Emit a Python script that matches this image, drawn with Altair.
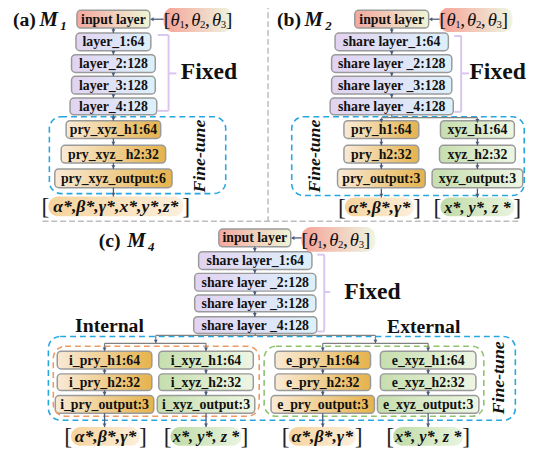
import altair as alt
import pandas as pd

# ---------------- text content ----------------
panel_tags = ["(a)", "(b)", "(c)"]
model_letter = "M"
model_subs = ["1", "2", "4"]
input_label = "input layer"
a_fixed = ["layer_1:64", "layer_2:128", "layer_3:128", "layer_4:128"]
share_fixed = ["share layer_1:64", "share layer _2:128", "share layer _3:128", "share layer _4:128"]
a_tune = ["pry_xyz_h1:64", "pry_xyz_ h2:32", "pry_xyz_output:6"]
b_pry = ["pry_h1:64", "pry_h2:32", "pry_output:3"]
b_xyz = ["xyz_h1:64", "xyz_h2:32", "xyz_output:3"]
c_ipry = ["i_pry_h1:64", "i_pry_h2:32", "i_pry_output:3"]
c_ixyz = ["i_xyz_h1:64", "i_xyz_h2:32", "i_xyz_output:3"]
c_epry = ["e_pry_h1:64", "e_pry_h2:32", "e_pry_output:3"]
c_exyz = ["e_xyz_h1:64", "e_xyz_h2:32", "e_xyz_output:3"]
out_all = "α*,β*,γ*,x*,y*,z*"
out_pry = "α*,β*,γ*"
out_xyz = "x*, y*, z *"
theta_sym = "θ"
theta_subs = ["1", "2", "3"]
fixed_word = "Fixed"
tune_word = "Fine-tune"
group_words = ["Internal", "External"]

# ---------------- layout ----------------
FONT = "Liberation Serif"
xs = alt.Scale(domain=[8, 546], nice=False, zero=False)
ys = alt.Scale(domain=[8, 457], nice=False, zero=False, reverse=True)

rows_ab = [(7, 25), (30, 48), (52, 70), (74, 92), (96, 113)]
rows_ab_t = [(119, 137), (144, 162), (168, 187)]
rows_c = [(229, 247), (252, 270), (274, 292), (296, 313), (318, 335)]
rows_c_t = [(353, 371), (376, 393), (398, 416)]

boxes = []


def add_col(labels, cx, widths, rows, kind):
    for lab, w, (t, b) in zip(labels, widths, rows):
        boxes.append(dict(label=lab, x0=cx - w / 2, x1=cx + w / 2, y0=t, y1=b,
                          kind=kind, cx=cx, cy=(t + b) / 2))


# panel a
add_col([input_label], 115, [74], rows_ab[:1], "input")
add_col(a_fixed, 115, [76, 85, 85, 88], rows_ab[1:], "fixed")
add_col(a_tune, 115, [96, 106, 119], rows_ab_t, "pry")
# panel b
add_col([input_label], 397.5, [75], rows_ab[:1], "input")
add_col(share_fixed, 397.5, [115, 122, 122, 125], rows_ab[1:], "fixed")
add_col(b_pry, 387, [76, 76, 89], rows_ab_t, "pry")
add_col(b_xyz, 484.5, [75, 77, 92], rows_ab_t, "xyz")
# panel c
add_col([input_label], 258.5, [73], rows_c[:1], "input")
add_col(share_fixed, 259, [115, 123, 123, 125], rows_c[1:], "fixed")
add_col(c_ipry, 106, [96, 96, 100], rows_c_t, "pry")
add_col(c_ixyz, 209, [96, 96, 99], rows_c_t, "xyz")
add_col(c_epry, 327.5, [97, 97, 105], rows_c_t, "pry")
add_col(c_exyz, 434.5, [97, 97, 103], rows_c_t, "xyz")
box_df = pd.DataFrame(boxes)

# pills (theta inputs and outputs)
pills = [
    dict(x0=166, x1=236, y0=4, y1=29, kind="theta"),
    dict(x0=446, x1=520, y0=4, y1=29, kind="theta"),
    dict(x0=306, x1=381, y0=227, y1=252, kind="theta"),
    dict(x0=49, x1=186, y0=196, y1=216, kind="opry"),
    dict(x0=350, x1=420, y0=197, y1=216, kind="opry"),
    dict(x0=447, x1=522, y0=197, y1=216, kind="oxyz"),
    dict(x0=72, x1=142, y0=430, y1=449, kind="opry"),
    dict(x0=173, x1=245, y0=430, y1=449, kind="oxyz"),
    dict(x0=293, x1=361, y0=430, y1=449, kind="opry"),
    dict(x0=399, x1=470, y0=430, y1=449, kind="oxyz"),
]
pill_df = pd.DataFrame(pills)

out_texts = [out_all, out_pry, out_xyz, out_pry, out_xyz, out_pry, out_xyz]
out_items = pills[3:]
out_rows = [dict(t=t, x=(p["x0"] + p["x1"]) / 2, y=(p["y0"] + p["y1"]) / 2 + 1, k=p["kind"])
            for t, p in zip(out_texts, out_items)]
out_txt_df = pd.DataFrame(out_rows)
brk_l, brk_r = [], []
for p in out_items:
    cy = (p["y0"] + p["y1"]) / 2 + 1
    brk_l.append(dict(t="[", x=p["x0"] + 1, y=cy))
    brk_r.append(dict(t="]", x=p["x1"] - 1, y=cy))
brk_l_df = pd.DataFrame(brk_l)
brk_r_df = pd.DataFrame(brk_r)

# theta text pieces
theta_rows, theta_sub_rows, theta_brk = [], [], []
for x0, cy in [(166, 17), (446, 17), (306, 240)]:
    theta_brk.append(dict(t="[", x=x0, y=cy))
    theta_brk.append(dict(t="]", x=x0 + 63, y=cy))
    for i, s in enumerate(theta_subs):
        theta_rows.append(dict(t=theta_sym, x=x0 + 7 + 21 * i, y=cy))
        theta_sub_rows.append(dict(t=s, x=x0 + 16 + 21 * i, y=cy + 5))
        if i < 2:
            theta_brk.append(dict(t=",", x=x0 + 21 + 21 * i, y=cy))
theta_df = pd.DataFrame(theta_rows)
theta_sub_df = pd.DataFrame(theta_sub_rows)
theta_brk_df = pd.DataFrame(theta_brk)

# arrows (slate connectors)
SLATE = "#4b5b7c"
GRAY = "#808080"
lines, heads = [], []


def arrow_down(x, y0, y1, color=SLATE):
    lines.append(dict(x0=x, y0=y0, x1=x, y1=y1, c=color))
    heads.append(dict(x=x, y=y1 - 2, s="triangle-down"))


def line(x0, y0, x1, y1, color=GRAY):
    lines.append(dict(x0=x0, y0=y0, x1=x1, y1=y1, c=color))


# stacked connectors
for cx, rows in [(115, rows_ab + rows_ab_t), (397.5, rows_ab), (258.5, rows_c)]:
    for (t0, b0), (t1, b1) in zip(rows[:-1], rows[1:]):
        if b0 == 113 and cx != 115:
            continue
        if b0 == 335:
            continue
        arrow_down(cx, b0, t1)
for cx in [387, 484.5]:
    for (t0, b0), (t1, b1) in zip(rows_ab_t[:-1], rows_ab_t[1:]):
        arrow_down(cx, b0, t1)
for cx in [106, 209, 327.5, 434.5]:
    for (t0, b0), (t1, b1) in zip(rows_c_t[:-1], rows_c_t[1:]):
        arrow_down(cx, b0, t1)
# branches panel b
line(397.5, 113, 397.5, 116)
line(387, 116, 484.5, 116)
arrow_down(387, 116, 121, GRAY)
arrow_down(484.5, 116, 121, GRAY)
# branches panel c
line(259, 335, 259, 337)
line(158, 337, 381, 337)
arrow_down(158, 337, 345, GRAY)
arrow_down(381, 337, 345, GRAY)
line(106, 345, 209, 345)
line(327.5, 345, 434.5, 345)
for cx in [106, 209, 327.5, 434.5]:
    arrow_down(cx, 345, 353, GRAY)
# outputs
arrow_down(115, 187, 196)
arrow_down(387, 188, 197)
arrow_down(484.5, 188, 197)
for cx in [106, 209, 327.5, 434.5]:
    arrow_down(cx, 416, 430)
# theta -> input
for xa, xb, yy in [(166, 152, 16), (446, 435, 16), (306, 295, 238)]:
    lines.append(dict(x0=xa, y0=yy, x1=xb + 2, y1=yy, c=SLATE))
    heads.append(dict(x=xb + 2, y=yy, s="triangle-left"))
line_df = pd.DataFrame(lines)
head_df = pd.DataFrame(heads)

# lavender braces
brace = []
for xv, top, bot, mid, left, right in [(171, 32, 109, 71, 160, 179),
                                        (468, 33, 110, 71, 461, 476),
                                        (329, 255, 333, 293, 322, 335)]:
    brace += [dict(x0=xv, y0=top, x1=xv, y1=bot), dict(x0=left, y0=top, x1=xv, y1=top),
              dict(x0=left, y0=bot, x1=xv, y1=bot), dict(x0=xv, y0=mid, x1=right, y1=mid)]
brace_df = pd.DataFrame(brace)

# dashed frames
frames = pd.DataFrame([
    dict(x0=50, x1=229, y0=115, y1=193, c="#27a6e0"),
    dict(x0=296, x1=532, y0=115, y1=195, c="#27a6e0"),
    dict(x0=49, x1=523, y0=338, y1=423, c="#27a6e0"),
    dict(x0=54, x1=263, y0=348, y1=419, c="#ef9a63"),
    dict(x0=268, x1=491, y0=348, y1=419, c="#8fc26d"),
])
dividers = pd.DataFrame([dict(x0=272, y0=0, x1=272, y1=221), dict(x0=43, y0=221, x1=526, y1=221)])

# word labels
fixed_df = pd.DataFrame([dict(t=fixed_word, x=212, y=70), dict(t=fixed_word, x=505, y=70),
                         dict(t=fixed_word, x=378, y=293)])
tune_df = pd.DataFrame([dict(t=tune_word, x=203, y=155), dict(t=tune_word, x=320, y=155),
                        dict(t=tune_word, x=506, y=380)])
group_df = pd.DataFrame([dict(t=group_words[0], x=111, y=328), dict(t=group_words[1], x=430, y=329)])
tag_df = pd.DataFrame([dict(t=panel_tags[0], x=13, y=17), dict(t=panel_tags[1], x=281, y=17),
                       dict(t=panel_tags[2], x=100, y=241)])
m_df = pd.DataFrame([dict(t=model_letter, x=40, y=17), dict(t=model_letter, x=309, y=17),
                     dict(t=model_letter, x=129, y=241)])
msub_df = pd.DataFrame([dict(t=model_subs[0], x=61, y=23), dict(t=model_subs[1], x=330, y=23),
                        dict(t=model_subs[2], x=150, y=247)])


# ---------------- helpers ----------------
def grad(c0, c1):
    return alt.Gradient(gradient="linear", x1=0, x2=1, y1=0, y2=0,
                        stops=[alt.GradientStop(color=c0, offset=0), alt.GradientStop(color=c1, offset=1)])


def rect_enc():
    return dict(x=alt.X("x0:Q", scale=xs, axis=None), x2="x1:Q",
                y=alt.Y("y0:Q", scale=ys, axis=None), y2="y1:Q")


def txt(df, size, weight="bold", style="normal", align="center", angle=0, color="#111111"):
    kw = dict(font=FONT, fontSize=size, fontWeight=weight, fontStyle=style, align=align,
              baseline="middle", color=color)
    if angle:
        kw["angle"] = angle
    return alt.Chart(df).mark_text(**kw).encode(
        x=alt.X("x:Q", scale=xs, axis=None), y=alt.Y("y:Q", scale=ys, axis=None), text="t:N")


layers = []
box_grads = {"input": ("#f4a89f", "#eef5d6"), "fixed": ("#e2d3f1", "#dcf1fb"),
             "pry": ("#f9ead6", "#e6b34c"), "xyz": ("#c6deae", "#eef6e4")}
for k, (c0, c1) in box_grads.items():
    layers.append(alt.Chart(box_df[box_df.kind == k]).mark_rect(
        fill=grad(c0, c1), stroke="#9a9a9a", strokeWidth=1.5, cornerRadius=4).encode(**rect_enc()))
pill_grads = {"theta": ("#f6a296", "#eef6e2"), "opry": ("#f6d39c", "#fcefdc"),
              "oxyz": ("#c0dba6", "#e9f4df")}
for k, (c0, c1) in pill_grads.items():
    layers.append(alt.Chart(pill_df[pill_df.kind == k]).mark_rect(
        fill=grad(c0, c1), cornerRadius=10).encode(**rect_enc()))

layers.append(alt.Chart(dividers).mark_rule(color="#bdbdbd", strokeWidth=1.5, strokeDash=[6, 3]).encode(**rect_enc()))
for c in frames.c.unique():
    layers.append(alt.Chart(frames[frames.c == c]).mark_rect(
        filled=False, stroke=c, strokeWidth=1.6, strokeDash=[6, 4], cornerRadius=12).encode(**rect_enc()))
layers.append(alt.Chart(brace_df).mark_rule(color="#d9c6f0", strokeWidth=2).encode(**rect_enc()))
for c in line_df.c.unique():
    layers.append(alt.Chart(line_df[line_df.c == c]).mark_rule(color=c, strokeWidth=1.3).encode(**rect_enc()))
for s in head_df.s.unique():
    layers.append(alt.Chart(head_df[head_df.s == s]).mark_point(
        shape=s, size=16, filled=True, color=SLATE, opacity=1).encode(
        x=alt.X("x:Q", scale=xs, axis=None), y=alt.Y("y:Q", scale=ys, axis=None)))

# box labels
lab_df = box_df.rename(columns={"label": "t", "cx": "x", "cy": "y"})[["t", "x", "y"]].copy()
lab_df["y"] = lab_df["y"] + 0.5
layers.append(txt(lab_df, 14))
# outputs
layers.append(txt(out_txt_df[out_txt_df.k == "opry"][["t", "x", "y"]], 18, style="italic"))
layers.append(txt(out_txt_df[out_txt_df.k == "oxyz"][["t", "x", "y"]], 16.5, style="italic"))
layers.append(txt(brk_l_df, 24, weight="normal", align="right", color="#222222"))
layers.append(txt(brk_r_df, 24, weight="normal", align="left", color="#222222"))
# theta
layers.append(txt(theta_df, 19, weight="normal", style="italic", align="left"))
layers.append(txt(theta_sub_df, 11, weight="normal", align="left"))
layers.append(txt(theta_brk_df, 20, weight="normal", align="left"))
# words
layers.append(txt(fixed_df, 24))
layers.append(txt(tune_df, 18, style="italic", angle=270))
layers.append(txt(group_df, 20))
layers.append(txt(tag_df, 20, align="left"))
layers.append(txt(m_df, 21, style="italic", align="left"))
layers.append(txt(msub_df, 13, style="italic", align="left"))

chart = alt.layer(*layers).properties(
    width=538, height=449, padding=0, autosize=alt.AutoSizeParams(type="none"),
    background="white"
).configure_view(stroke=None)

chart.save("out.html", embed_options={"renderer": "svg", "actions": False})
